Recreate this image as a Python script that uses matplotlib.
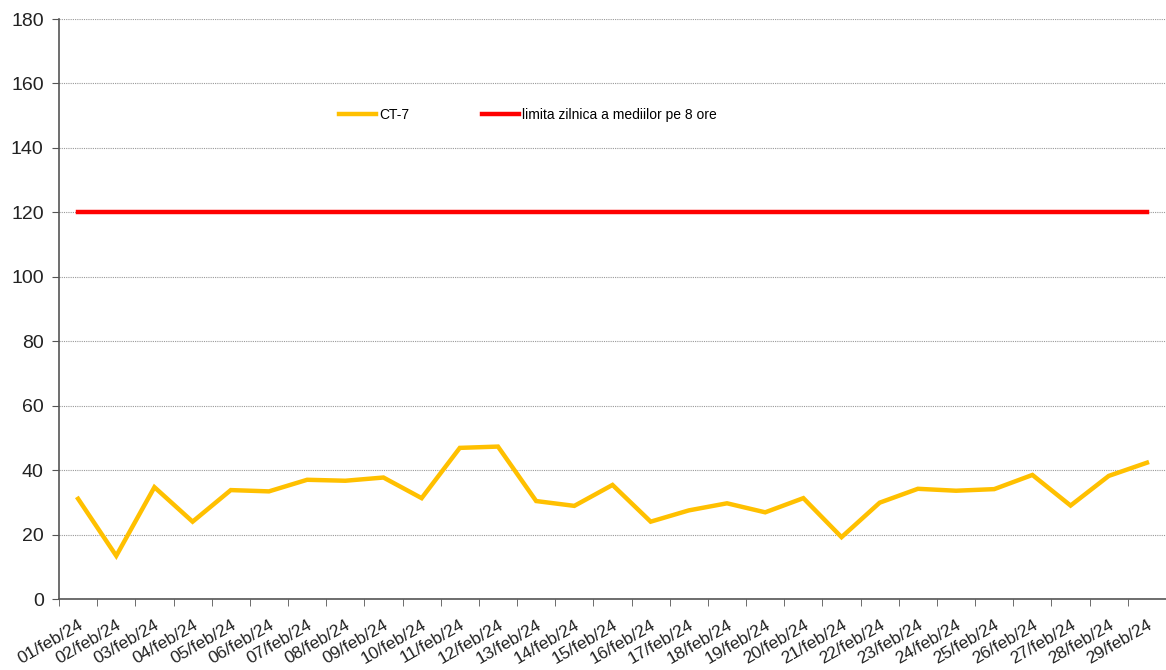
import numpy as np
import matplotlib.pyplot as plt

plt.rcParams['font.family'] = ['Liberation Sans', 'DejaVu Sans']

days = [f"{d:02d}/feb/24" for d in range(1, 30)]
ct7 = [31.1, 13.4, 34.7, 24.0, 33.8, 33.4, 37.0, 36.7, 37.7, 31.3,
       46.9, 47.3, 30.4, 28.9, 35.4, 24.0, 27.5, 29.7, 26.9, 31.3,
       19.2, 29.9, 34.2, 33.6, 34.1, 38.5, 29.0, 38.2, 42.3]
limit = [120] * len(days)

x = np.arange(len(days))

fig = plt.figure(figsize=(11.66, 6.70), dpi=100)
ax = fig.add_axes([59 / 1166, 1 - 599 / 670, 1 - 59 / 1166, (599 - 19) / 670])

ax.plot(x, ct7, color="#FFC000", lw=3.2, label="CT-7", solid_joinstyle="miter")
ax.plot(x, limit, color="#FF0000", lw=3.2, label="limita zilnica a mediilor pe 8 ore")

ax.set_xlim(-0.5, len(days) - 0.5)
ax.set_ylim(0, 180)
ax.set_yticks(range(0, 181, 20))
ax.tick_params(axis='y', labelsize=14, length=5, pad=6, color="#555555", labelcolor="#222222")
ax.yaxis.grid(True, linestyle=(0, (1, 1)), color="#999999", lw=0.8)
ax.set_axisbelow(True)

ax.set_xticks(x)
ax.set_xticklabels(days, rotation=30, ha='right', va='top', rotation_mode='anchor', fontsize=12.5, color="#222222")
ax.tick_params(axis='x', which='major', length=0, pad=13)
ax.set_xticks(np.arange(-0.5, len(days), 1), minor=True)
ax.tick_params(axis='x', which='minor', length=5, color="#555555")

for s in ['top', 'right']:
    ax.spines[s].set_visible(False)
for s in ['left', 'bottom']:
    ax.spines[s].set_color("#555555")
    ax.spines[s].set_linewidth(1.2)

ax.legend(ncol=2, loc='center', bbox_to_anchor=(0.4237, 0.834), frameon=False,
          fontsize=10, handlelength=2.65, handletextpad=0.25, columnspacing=5.2)

fig.savefig("out.png", dpi=100)
